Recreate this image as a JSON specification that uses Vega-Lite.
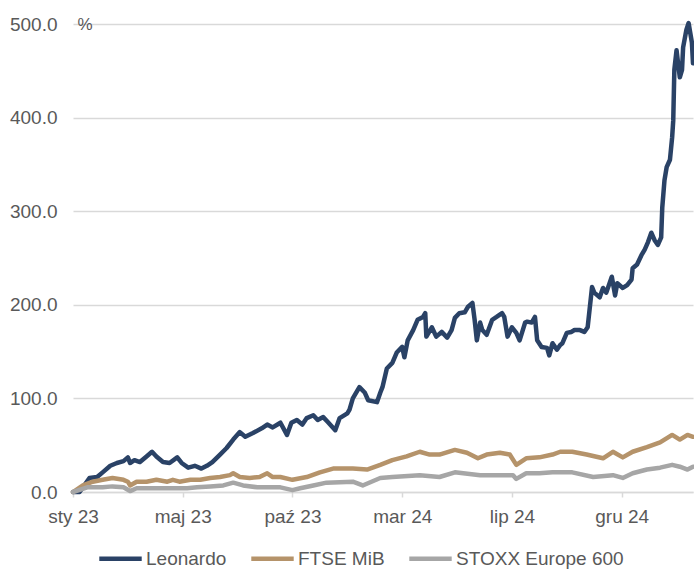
{
  "$schema": "https://vega.github.io/schema/vega-lite/v6.json",
  "autosize": {"type": "none"},
  "width": 620,
  "height": 468,
  "padding": {"left": 73, "top": 24, "right": 1, "bottom": 78},
  "background": "white",
  "config": {
    "view": {"stroke": null},
    "font": "Liberation Sans"
  },
  "data": {
    "values": [
      {"t":0,"s":"Leonardo","v":0},{"t":6,"s":"Leonardo","v":0},{"t":15,"s":"Leonardo","v":15},{"t":22,"s":"Leonardo","v":16},{"t":27,"s":"Leonardo","v":21},{"t":34,"s":"Leonardo","v":28},{"t":40,"s":"Leonardo","v":31},{"t":46,"s":"Leonardo","v":33},{"t":50,"s":"Leonardo","v":37},{"t":52,"s":"Leonardo","v":31},{"t":56,"s":"Leonardo","v":34},{"t":61,"s":"Leonardo","v":32},{"t":67,"s":"Leonardo","v":38},{"t":72,"s":"Leonardo","v":43},{"t":76,"s":"Leonardo","v":38},{"t":82,"s":"Leonardo","v":32},{"t":88,"s":"Leonardo","v":31},{"t":95,"s":"Leonardo","v":37},{"t":99,"s":"Leonardo","v":31},{"t":105,"s":"Leonardo","v":26},{"t":111,"s":"Leonardo","v":28},{"t":117,"s":"Leonardo","v":25},{"t":122,"s":"Leonardo","v":28},{"t":127,"s":"Leonardo","v":32},{"t":134,"s":"Leonardo","v":40},{"t":140,"s":"Leonardo","v":47},{"t":146,"s":"Leonardo","v":56},{"t":152,"s":"Leonardo","v":64},{"t":157,"s":"Leonardo","v":59},{"t":164,"s":"Leonardo","v":63},{"t":172,"s":"Leonardo","v":68},{"t":177,"s":"Leonardo","v":72},{"t":182,"s":"Leonardo","v":69},{"t":189,"s":"Leonardo","v":74},{"t":195,"s":"Leonardo","v":61},{"t":199,"s":"Leonardo","v":74},{"t":204,"s":"Leonardo","v":77},{"t":209,"s":"Leonardo","v":72},{"t":213,"s":"Leonardo","v":79},{"t":219,"s":"Leonardo","v":82},{"t":223,"s":"Leonardo","v":77},{"t":228,"s":"Leonardo","v":80},{"t":232,"s":"Leonardo","v":75},{"t":239,"s":"Leonardo","v":66},{"t":243,"s":"Leonardo","v":79},{"t":250,"s":"Leonardo","v":84},{"t":252,"s":"Leonardo","v":88},{"t":255,"s":"Leonardo","v":100},{"t":261,"s":"Leonardo","v":112},{"t":266,"s":"Leonardo","v":106},{"t":269,"s":"Leonardo","v":98},{"t":277,"s":"Leonardo","v":96},{"t":280,"s":"Leonardo","v":106},{"t":282,"s":"Leonardo","v":112},{"t":286,"s":"Leonardo","v":132},{"t":291,"s":"Leonardo","v":138},{"t":295,"s":"Leonardo","v":149},{"t":300,"s":"Leonardo","v":155},{"t":302,"s":"Leonardo","v":144},{"t":305,"s":"Leonardo","v":162},{"t":310,"s":"Leonardo","v":173},{"t":314,"s":"Leonardo","v":184},{"t":319,"s":"Leonardo","v":187},{"t":321,"s":"Leonardo","v":191},{"t":322,"s":"Leonardo","v":166},{"t":327,"s":"Leonardo","v":176},{"t":331,"s":"Leonardo","v":166},{"t":336,"s":"Leonardo","v":171},{"t":341,"s":"Leonardo","v":165},{"t":345,"s":"Leonardo","v":173},{"t":348,"s":"Leonardo","v":186},{"t":352,"s":"Leonardo","v":191},{"t":357,"s":"Leonardo","v":192},{"t":360,"s":"Leonardo","v":198},{"t":364,"s":"Leonardo","v":202},{"t":366,"s":"Leonardo","v":184},{"t":368,"s":"Leonardo","v":162},{"t":371,"s":"Leonardo","v":181},{"t":373,"s":"Leonardo","v":173},{"t":377,"s":"Leonardo","v":168},{"t":382,"s":"Leonardo","v":184},{"t":386,"s":"Leonardo","v":187},{"t":391,"s":"Leonardo","v":191},{"t":393,"s":"Leonardo","v":187},{"t":396,"s":"Leonardo","v":166},{"t":400,"s":"Leonardo","v":176},{"t":404,"s":"Leonardo","v":170},{"t":407,"s":"Leonardo","v":162},{"t":412,"s":"Leonardo","v":181},{"t":414,"s":"Leonardo","v":182},{"t":418,"s":"Leonardo","v":181},{"t":421,"s":"Leonardo","v":187},{"t":423,"s":"Leonardo","v":162},{"t":427,"s":"Leonardo","v":155},{"t":432,"s":"Leonardo","v":154},{"t":434,"s":"Leonardo","v":146},{"t":437,"s":"Leonardo","v":159},{"t":441,"s":"Leonardo","v":152},{"t":444,"s":"Leonardo","v":157},{"t":446,"s":"Leonardo","v":159},{"t":450,"s":"Leonardo","v":170},{"t":454,"s":"Leonardo","v":171},{"t":457,"s":"Leonardo","v":173},{"t":462,"s":"Leonardo","v":173},{"t":466,"s":"Leonardo","v":171},{"t":469,"s":"Leonardo","v":176},{"t":473,"s":"Leonardo","v":219},{"t":475,"s":"Leonardo","v":213},{"t":480,"s":"Leonardo","v":208},{"t":483,"s":"Leonardo","v":218},{"t":486,"s":"Leonardo","v":213},{"t":491,"s":"Leonardo","v":230},{"t":494,"s":"Leonardo","v":210},{"t":496,"s":"Leonardo","v":223},{"t":501,"s":"Leonardo","v":218},{"t":505,"s":"Leonardo","v":221},{"t":509,"s":"Leonardo","v":227},{"t":510,"s":"Leonardo","v":239},{"t":514,"s":"Leonardo","v":243},{"t":518,"s":"Leonardo","v":253},{"t":521,"s":"Leonardo","v":259},{"t":524,"s":"Leonardo","v":267},{"t":527,"s":"Leonardo","v":277},{"t":530,"s":"Leonardo","v":269},{"t":533,"s":"Leonardo","v":264},{"t":536,"s":"Leonardo","v":272},{"t":537,"s":"Leonardo","v":304},{"t":539,"s":"Leonardo","v":333},{"t":541,"s":"Leonardo","v":347},{"t":544,"s":"Leonardo","v":355},{"t":546,"s":"Leonardo","v":379},{"t":547,"s":"Leonardo","v":397},{"t":548,"s":"Leonardo","v":451},{"t":550,"s":"Leonardo","v":472},{"t":551,"s":"Leonardo","v":462},{"t":553,"s":"Leonardo","v":443},{"t":555,"s":"Leonardo","v":451},{"t":556,"s":"Leonardo","v":475},{"t":559,"s":"Leonardo","v":494},{"t":561,"s":"Leonardo","v":501},{"t":564,"s":"Leonardo","v":480},{"t":565,"s":"Leonardo","v":458},

      {"t":0,"s":"FTSE MiB","v":0},{"t":9,"s":"FTSE MiB","v":7},{"t":18,"s":"FTSE MiB","v":11},{"t":27,"s":"FTSE MiB","v":13},{"t":36,"s":"FTSE MiB","v":15},{"t":46,"s":"FTSE MiB","v":13},{"t":50,"s":"FTSE MiB","v":11},{"t":52,"s":"FTSE MiB","v":7},{"t":58,"s":"FTSE MiB","v":11},{"t":67,"s":"FTSE MiB","v":11},{"t":76,"s":"FTSE MiB","v":13},{"t":86,"s":"FTSE MiB","v":11},{"t":91,"s":"FTSE MiB","v":13},{"t":97,"s":"FTSE MiB","v":11},{"t":107,"s":"FTSE MiB","v":13},{"t":116,"s":"FTSE MiB","v":13},{"t":125,"s":"FTSE MiB","v":15},{"t":134,"s":"FTSE MiB","v":16},{"t":143,"s":"FTSE MiB","v":18},{"t":146,"s":"FTSE MiB","v":20},{"t":152,"s":"FTSE MiB","v":16},{"t":161,"s":"FTSE MiB","v":15},{"t":170,"s":"FTSE MiB","v":16},{"t":177,"s":"FTSE MiB","v":20},{"t":182,"s":"FTSE MiB","v":16},{"t":189,"s":"FTSE MiB","v":16},{"t":200,"s":"FTSE MiB","v":13},{"t":213,"s":"FTSE MiB","v":16},{"t":225,"s":"FTSE MiB","v":21},{"t":237,"s":"FTSE MiB","v":25},{"t":255,"s":"FTSE MiB","v":25},{"t":268,"s":"FTSE MiB","v":24},{"t":280,"s":"FTSE MiB","v":29},{"t":291,"s":"FTSE MiB","v":34},{"t":304,"s":"FTSE MiB","v":38},{"t":316,"s":"FTSE MiB","v":43},{"t":325,"s":"FTSE MiB","v":40},{"t":334,"s":"FTSE MiB","v":40},{"t":348,"s":"FTSE MiB","v":45},{"t":359,"s":"FTSE MiB","v":42},{"t":369,"s":"FTSE MiB","v":36},{"t":377,"s":"FTSE MiB","v":40},{"t":389,"s":"FTSE MiB","v":42},{"t":398,"s":"FTSE MiB","v":40},{"t":404,"s":"FTSE MiB","v":29},{"t":413,"s":"FTSE MiB","v":36},{"t":425,"s":"FTSE MiB","v":37},{"t":437,"s":"FTSE MiB","v":40},{"t":444,"s":"FTSE MiB","v":43},{"t":455,"s":"FTSE MiB","v":43},{"t":468,"s":"FTSE MiB","v":40},{"t":483,"s":"FTSE MiB","v":36},{"t":492,"s":"FTSE MiB","v":43},{"t":501,"s":"FTSE MiB","v":37},{"t":510,"s":"FTSE MiB","v":43},{"t":523,"s":"FTSE MiB","v":48},{"t":535,"s":"FTSE MiB","v":53},{"t":546,"s":"FTSE MiB","v":61},{"t":553,"s":"FTSE MiB","v":56},{"t":560,"s":"FTSE MiB","v":61},{"t":565,"s":"FTSE MiB","v":59},

      {"t":0,"s":"STOXX Europe 600","v":0},{"t":13,"s":"STOXX Europe 600","v":5},{"t":27,"s":"STOXX Europe 600","v":5},{"t":36,"s":"STOXX Europe 600","v":6},{"t":46,"s":"STOXX Europe 600","v":5},{"t":52,"s":"STOXX Europe 600","v":1},{"t":58,"s":"STOXX Europe 600","v":4},{"t":73,"s":"STOXX Europe 600","v":4},{"t":88,"s":"STOXX Europe 600","v":4},{"t":104,"s":"STOXX Europe 600","v":4},{"t":113,"s":"STOXX Europe 600","v":5},{"t":125,"s":"STOXX Europe 600","v":6},{"t":137,"s":"STOXX Europe 600","v":7},{"t":146,"s":"STOXX Europe 600","v":10},{"t":155,"s":"STOXX Europe 600","v":7},{"t":168,"s":"STOXX Europe 600","v":5},{"t":179,"s":"STOXX Europe 600","v":5},{"t":189,"s":"STOXX Europe 600","v":5},{"t":200,"s":"STOXX Europe 600","v":2},{"t":207,"s":"STOXX Europe 600","v":4},{"t":219,"s":"STOXX Europe 600","v":7},{"t":231,"s":"STOXX Europe 600","v":10},{"t":255,"s":"STOXX Europe 600","v":11},{"t":264,"s":"STOXX Europe 600","v":7},{"t":280,"s":"STOXX Europe 600","v":15},{"t":291,"s":"STOXX Europe 600","v":16},{"t":316,"s":"STOXX Europe 600","v":18},{"t":334,"s":"STOXX Europe 600","v":16},{"t":348,"s":"STOXX Europe 600","v":21},{"t":371,"s":"STOXX Europe 600","v":18},{"t":401,"s":"STOXX Europe 600","v":18},{"t":404,"s":"STOXX Europe 600","v":14},{"t":413,"s":"STOXX Europe 600","v":20},{"t":425,"s":"STOXX Europe 600","v":20},{"t":437,"s":"STOXX Europe 600","v":21},{"t":455,"s":"STOXX Europe 600","v":21},{"t":474,"s":"STOXX Europe 600","v":16},{"t":492,"s":"STOXX Europe 600","v":18},{"t":501,"s":"STOXX Europe 600","v":15},{"t":510,"s":"STOXX Europe 600","v":20},{"t":523,"s":"STOXX Europe 600","v":24},{"t":535,"s":"STOXX Europe 600","v":26},{"t":546,"s":"STOXX Europe 600","v":29},{"t":553,"s":"STOXX Europe 600","v":27},{"t":560,"s":"STOXX Europe 600","v":24},{"t":565,"s":"STOXX Europe 600","v":27}
    ]
  },
  "mark": {"type": "line", "strokeWidth": 4.5, "strokeJoin": "round", "strokeCap": "round", "clip": false},
  "encoding": {
    "x": {
      "field": "t",
      "type": "quantitative",
      "scale": {"domain": [0, 565], "nice": false, "zero": false},
      "axis": {
        "title": null,
        "values": [0, 100, 200, 300, 400, 500],
        "labelExpr": "['sty 23','maj 23','paź 23','mar 24','lip 24','gru 24'][round(datum.value/100)]",
        "grid": false,
        "domain": true,
        "domainColor": "#d9d9d9",
        "domainWidth": 1.5,
        "ticks": true,
        "tickColor": "#d9d9d9",
        "tickWidth": 1.5,
        "tickSize": 5,
        "labelFont": "Liberation Sans",
        "labelFontSize": 19,
        "labelColor": "#595959",
        "labelPadding": 10,
        "labelFlush": false,
        "labelOverlap": false
      }
    },
    "y": {
      "field": "v",
      "type": "quantitative",
      "scale": {"domain": [0, 500], "nice": false},
      "axis": {
        "title": "%",
        "titleAngle": 0,
        "titleX": 4,
        "titleY": 0,
        "titleAlign": "left",
        "titleBaseline": "middle",
        "titleFont": "Liberation Sans",
        "titleFontSize": 17,
        "titleFontWeight": "normal",
        "titleColor": "#595959",
        "values": [0, 100, 200, 300, 400, 500],
        "format": ".1f",
        "grid": true,
        "gridColor": "#d9d9d9",
        "gridWidth": 1.5,
        "domain": false,
        "ticks": false,
        "labelFont": "Liberation Sans",
        "labelFontSize": 19,
        "labelColor": "#595959",
        "labelPadding": 16
      }
    },
    "color": {
      "field": "s",
      "type": "nominal",
      "scale": {
        "domain": ["Leonardo", "FTSE MiB", "STOXX Europe 600"],
        "range": ["#2a4266", "#b5936a", "#a6a6a6"]
      },
      "legend": {
        "title": null,
        "orient": "none",
        "legendX": 24,
        "legendY": 511,
        "direction": "horizontal",
        "symbolType": "stroke",
        "symbolSize": 1800,
        "symbolStrokeWidth": 4.5,
        "labelFont": "Liberation Sans",
        "labelFontSize": 19,
        "labelColor": "#595959",
        "labelOffset": 2,
        "labelLimit": 0,
        "columnPadding": 15
      }
    },
    "order": {"field": "t", "type": "quantitative"}
  }
}
